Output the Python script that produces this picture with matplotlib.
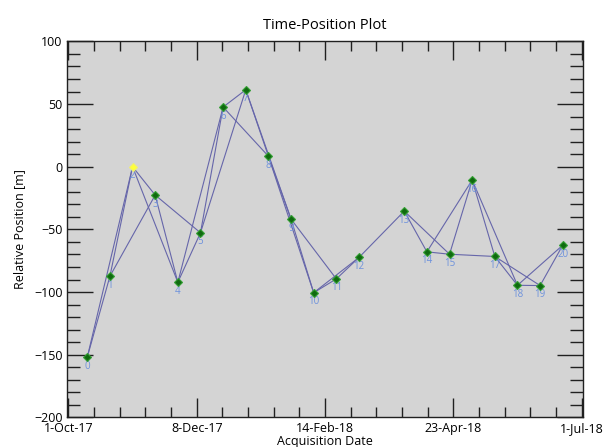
import matplotlib
matplotlib.use("Agg")
import matplotlib.pyplot as plt
import numpy as np
import pandas as pd
from matplotlib.ticker import FixedLocator, MultipleLocator

# acquisition dates (index 0..20) and relative position [m]
dates = ['2017-10-11', '2017-10-23', '2017-11-04', '2017-11-16', '2017-11-28',
         '2017-12-10', '2017-12-22', '2018-01-03', '2018-01-15', '2018-01-27',
         '2018-02-08', '2018-02-20', '2018-03-04', '2018-03-28', '2018-04-09',
         '2018-04-21', '2018-05-03', '2018-05-15', '2018-05-27', '2018-06-08',
         '2018-06-20']
positions = [-152, -87.4, 0, -22.6, -92.2, -52.7, 47.6, 61.4, 8.4, -41.8,
             -100.5, -89.5, -72.4, -35.4, -67.9, -69.8, -10.6, -71.6, -94.6,
             -94.8, -62.6]
super_master = 2

# interferometric pairs (index, index)
pairs = [(0, 1), (0, 2), (1, 2), (1, 3), (2, 3), (2, 4), (3, 4), (3, 5),
         (4, 5), (4, 6), (5, 6), (5, 7), (6, 7), (6, 8), (7, 8), (7, 9),
         (8, 9), (8, 10), (9, 10), (9, 11), (10, 11), (10, 12), (11, 12),
         (12, 13), (13, 14), (13, 15), (14, 15), (14, 16), (15, 16), (15, 17),
         (16, 17), (16, 18), (17, 18), (17, 19), (18, 19), (18, 20), (19, 20)]

tick_dates = ['2017-10-01', '2017-12-08', '2018-02-14', '2018-04-23', '2018-06-30']
tick_labels = ['1-Oct-17', '8-Dec-17', '14-Feb-18', '23-Apr-18', '1-Jul-18']

origin = pd.Timestamp('2017-10-01')
x = np.array([(pd.Timestamp(d) - origin).days for d in dates], dtype=float)
y = np.array(positions)
xt = [(pd.Timestamp(d) - origin).days for d in tick_dates]

plt.rcParams['font.family'] = ['Open Sans', 'DejaVu Sans']

fig = plt.figure(figsize=(6.08, 4.47), dpi=100)
ax = fig.add_axes([0.1097, 0.0662, 0.8497, 0.8412])
ax.set_facecolor('#d4d4d4')

# connection lines
for a, b in pairs:
    ax.plot([x[a], x[b]], [y[a], y[b]], color='#6666aa', lw=0.8, zorder=2)

# acquisitions
for i in range(len(x)):
    if i == super_master:
        fc, ec = '#ffff3a', '#f0f070'
    else:
        fc, ec = '#106a10', '#33a033'
    ax.plot(x[i], y[i], 'D', ms=4.2, mfc=fc, mec=ec, mew=0.8, zorder=4)
    ax.annotate(str(i), (x[i], y[i]), xytext=(0, -6.5), textcoords='offset points',
                ha='center', va='center', fontsize=7, color='#6e92dc', zorder=3)

ax.set_xlim(-0.9, 272.9)
ax.set_ylim(-200, 100)

ax.xaxis.set_major_locator(FixedLocator(xt))
ax.xaxis.set_minor_locator(MultipleLocator(13.6))
ax.set_xticklabels(tick_labels)
ax.yaxis.set_major_locator(MultipleLocator(50))
ax.yaxis.set_minor_locator(MultipleLocator(10))

ax.tick_params(axis='both', which='both', direction='in', top=True, right=True,
               color='#202020', width=1, labelsize=9)
ax.tick_params(axis='x', which='major', length=14, pad=3)
ax.tick_params(axis='x', which='minor', length=7)
ax.tick_params(axis='y', which='major', length=19, pad=3)
ax.tick_params(axis='y', which='minor', length=9.5)

for s in ax.spines.values():
    s.set_color('#202020')
    s.set_linewidth(1)

ax.set_title('Time-Position Plot', fontsize=10.5, pad=9)
ax.set_xlabel('Acquisition Date', fontsize=9, labelpad=0)
ax.set_ylabel('Relative Position [m]', fontsize=9, labelpad=6)

fig.savefig('out.png', dpi=100)
